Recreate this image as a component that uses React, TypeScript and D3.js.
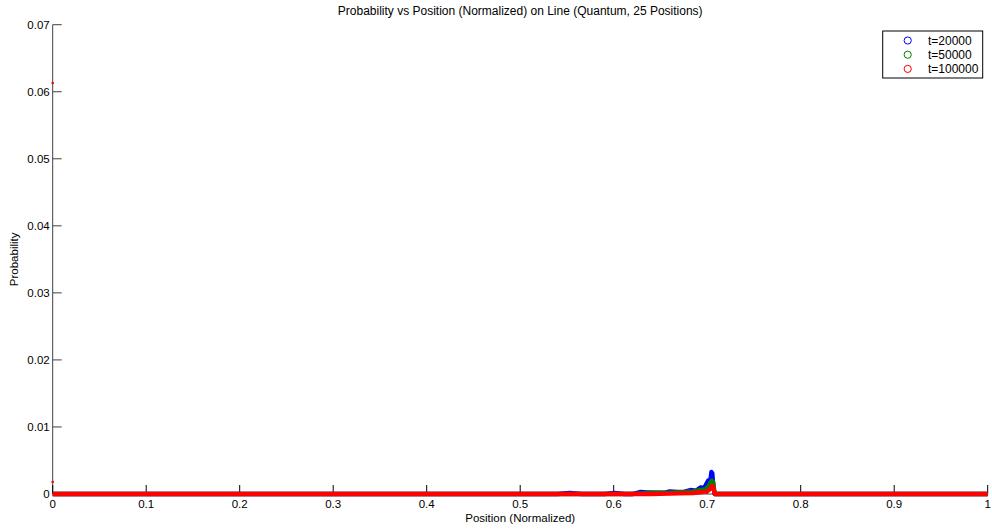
import React from "react";
import * as d3 from "d3";

const title = "Probability vs Position (Normalized) on Line (Quantum, 25 Positions)";
const xLabel = "Position (Normalized)";
const yLabel = "Probability";
const xTicks = [0, 0.1, 0.2, 0.3, 0.4, 0.5, 0.6, 0.7, 0.8, 0.9, 1];
const yTicks = [0, 0.01, 0.02, 0.03, 0.04, 0.05, 0.06, 0.07];
const seriesNames = ["t=20000", "t=50000", "t=100000"];
const seriesColors = ["#0000ff", "#008000", "#ff0000"];

const blueX = [0, 0.54, 0.553, 0.566, 0.59, 0.601, 0.612, 0.62, 0.628, 0.636, 0.645, 0.655, 0.66, 0.668, 0.676, 0.682, 0.688, 0.693, 0.697, 0.699, 0.701, 0.703, 0.7045, 0.7055, 0.7065, 0.708, 1];
const blueY = [0, 0, 0.00015, 0, 0, 0.00015, 0, 0, 0.0003, 0.00025, 0.0002, 0.0002, 0.00038, 0.0003, 0.00035, 0.0006, 0.0005, 0.001, 0.0009, 0.0015, 0.002, 0.0017, 0.0033, 0.0031, 0.0012, 0, 0];
const greenX = [0, 0.62, 0.64, 0.66, 0.675, 0.685, 0.693, 0.698, 0.701, 0.703, 0.705, 0.7065, 0.708, 1];
const greenY = [0, 0, 0.0002, 0.0002, 0.0003, 0.0004, 0.0006, 0.0007, 0.0011, 0.0016, 0.002, 0.0018, 0, 0];
const redX = [0, 0.64, 0.67, 0.685, 0.695, 0.7, 0.703, 0.705, 0.7065, 0.708, 1];
const redY = [0, 0, 0.0001, 0.00015, 0.0003, 0.0004, 0.0007, 0.0012, 0.0011, 0, 0];
const redDotX = [0, 0];
const redDotY = [0.0613, 0.0018];

const W = 992, H = 529;
const margin = { left: 52.7, right: 4.3, top: 24.7, bottom: 35 };

export default function App() {
  const x = d3.scaleLinear().domain([0, 1]).range([margin.left, W - margin.right]);
  const y = d3.scaleLinear().domain([0, 0.07]).range([H - margin.bottom, margin.top]);
  const line = d3.line<[number, number]>().x(d => x(d[0])).y(d => y(d[1]));
  const series = [
    { xs: blueX, ys: blueY },
    { xs: greenX, ys: greenY },
    { xs: redX, ys: redY },
  ];
  const font = "'Liberation Sans', Arial, Helvetica, sans-serif";
  const axisColor = "#404040";
  return (
    <svg width={W} height={H} style={{ position: "absolute", left: 0, top: 0, background: "#fff" }} fontFamily={font}>
      <rect x={0} y={0} width={W} height={H} fill="#fff" />
      <text x={(x(0) + x(1)) / 2} y={15} textAnchor="middle" fontSize={12} fill="#000">{title}</text>
      {/* y axis */}
      <line x1={x(0)} x2={x(0)} y1={y(0)} y2={y(0.07)} stroke={axisColor} strokeWidth={1} />
      {yTicks.map(t => (
        <g key={"y" + t}>
          <line x1={x(0)} x2={x(0) + 9} y1={y(t)} y2={y(t)} stroke={axisColor} strokeWidth={1} />
          <text x={x(0) - 3} y={y(t) + 4} textAnchor="end" fontSize={11.5} fill="#000">{String(t)}</text>
        </g>
      ))}
      {/* x axis */}
      <line x1={x(0)} x2={x(1)} y1={y(0)} y2={y(0)} stroke={axisColor} strokeWidth={1} />
      {xTicks.map(t => (
        <g key={"x" + t}>
          <line x1={x(t)} x2={x(t)} y1={y(0)} y2={y(0) - 9} stroke="#000" strokeWidth={1} />
          <text x={x(t)} y={y(0) + 14} textAnchor="middle" fontSize={11.5} fill="#000">{String(t)}</text>
        </g>
      ))}
      <text x={(x(0) + x(1)) / 2} y={H - 7} textAnchor="middle" fontSize={11.5} fill="#000">{xLabel}</text>
      <text transform={`translate(18,${(y(0) + y(0.07)) / 2}) rotate(-90)`} textAnchor="middle" fontSize={11.5} fill="#000">{yLabel}</text>
      {/* series */}
      {series.map((s, i) => (
        <path key={i} d={line(s.xs.map((v, j) => [v, s.ys[j]]) as [number, number][]) || ""} fill="none"
          stroke={seriesColors[i]} strokeWidth={4.3} strokeLinejoin="round" />
      ))}
      {redDotX.map((v, i) => (
        <circle key={"d" + i} cx={x(v)} cy={y(redDotY[i])} r={1.3} fill="#ff0000" />
      ))}
      {/* legend */}
      <rect x={882.7} y={31} width={100} height={47} fill="#fff" stroke="#000" strokeWidth={1} />
      {seriesNames.map((n, i) => (
        <g key={n}>
          <circle cx={907.7} cy={40.5 + i * 14.2} r={3.6} fill="none" stroke={seriesColors[i]} strokeWidth={1} />
          <text x={928} y={40.5 + i * 14.2 + 4} fontSize={12} fill="#000">{n}</text>
        </g>
      ))}
    </svg>
  );
}
